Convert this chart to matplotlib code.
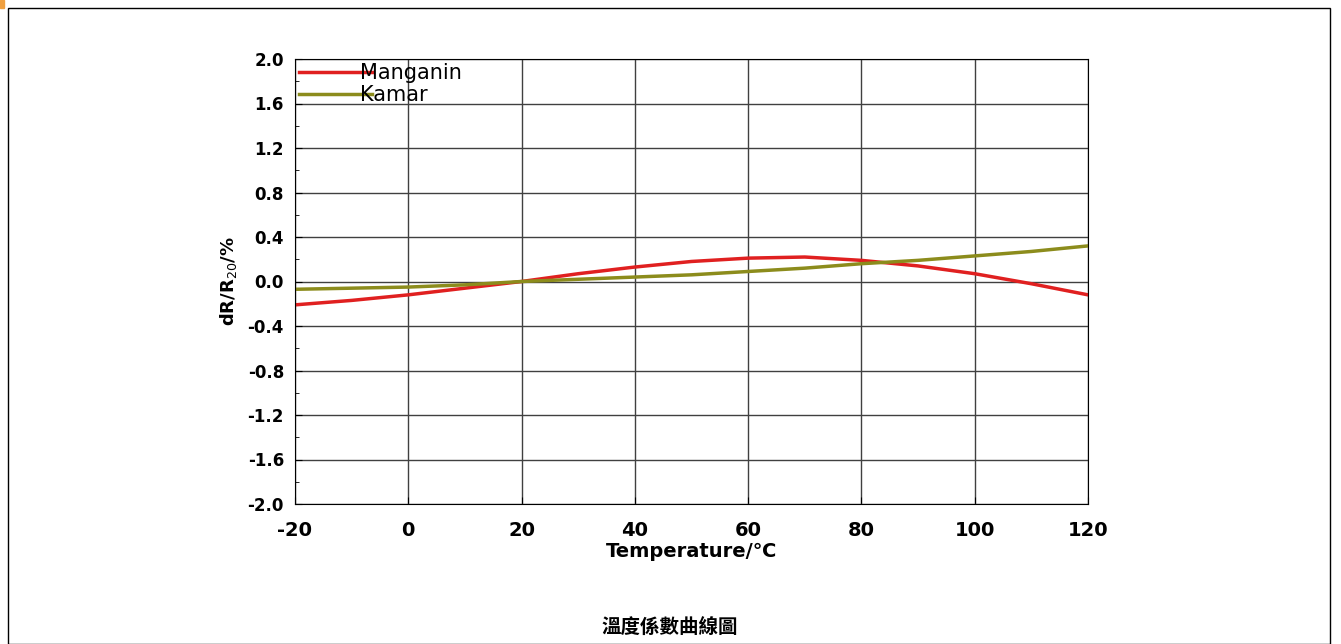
import numpy as np
import matplotlib.pyplot as plt
from matplotlib.patches import Rectangle

# data
temps = [-20, -10, 0, 10, 20, 30, 40, 50, 60, 70, 80, 90, 100, 110, 120]
manganin = [-0.21, -0.17, -0.12, -0.06, 0.0, 0.07, 0.13, 0.18, 0.21, 0.22, 0.19, 0.14, 0.07, -0.02, -0.12]
kamar = [-0.07, -0.06, -0.05, -0.03, 0.0, 0.02, 0.04, 0.06, 0.09, 0.12, 0.16, 0.19, 0.23, 0.27, 0.32]
xticks = [-20, 0, 20, 40, 60, 80, 100, 120]
yticks = [-2.0, -1.6, -1.2, -0.8, -0.4, 0.0, 0.4, 0.8, 1.2, 1.6, 2.0]

fig = plt.figure(figsize=(13.41, 6.44), dpi=100)
fig.patches.append(Rectangle((8/1341, 0), 1322/1341, 636/644, transform=fig.transFigure,
                             fill=False, edgecolor='black', lw=1))
fig.patches.append(Rectangle((0, 636/644), 4/1341, 8/644, transform=fig.transFigure,
                             color='#f0a040'))

ax = fig.add_axes([295/1341, 1 - 504/644, 793/1341, 445/644])
ax.plot(temps, manganin, color='#e02020', lw=2.5, label='Manganin')
ax.plot(temps, kamar, color='#8c8c1c', lw=2.5, label='Kamar')
ax.set_xlim(-20, 120)
ax.set_ylim(-2.0, 2.0)
ax.set_xticks(xticks)
ax.set_yticks(yticks)
ax.set_yticks(np.arange(-2.0, 2.01, 0.2), minor=True)
ax.set_yticklabels([f'{v:.1f}' for v in yticks], fontsize=12, fontweight='bold')
ax.set_xticklabels([str(v) for v in xticks], fontsize=14, fontweight='bold')
ax.grid(True, color='#404040', lw=1)
ax.tick_params(axis='x', direction='in', length=5, pad=12)
ax.tick_params(axis='y', direction='in', length=5, pad=8)
ax.tick_params(which='minor', direction='in', length=3)
ax.set_xlabel('Temperature/\u2103', fontsize=14, fontweight='bold', labelpad=2)
ax.set_ylabel('dR/R$_{20}$/%', fontsize=13, fontweight='bold', labelpad=6)
ax.legend(loc='upper left', frameon=False, fontsize=15, handlelength=3.5,
          borderaxespad=0.1, borderpad=0.1, labelspacing=0.1, handletextpad=-0.6)

fig.text(670/1341, 1 - 628/644, '溫度係數曲線圖', ha='center', va='center', fontsize=14,
         fontweight='bold', family=['Noto Sans CJK TC', 'DejaVu Sans'])
fig.savefig('out.png', dpi=100)
